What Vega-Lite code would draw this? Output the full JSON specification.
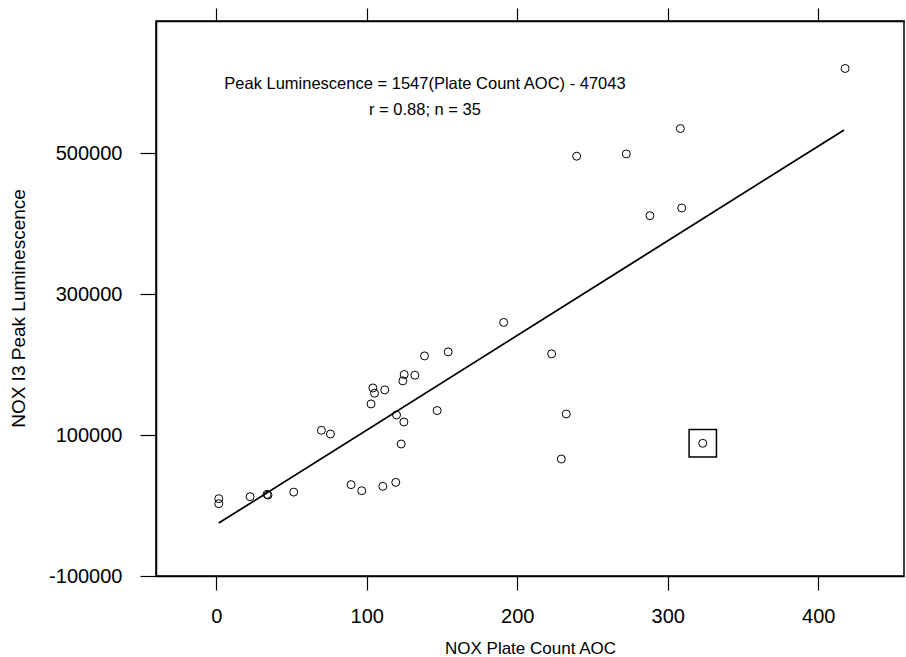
{
  "$schema": "https://vega.github.io/schema/vega-lite/v6.json",
  "width": 748,
  "height": 555,
  "autosize": {"type": "none"},
  "padding": {"left": 156, "top": 21, "right": 2, "bottom": 81},
  "background": "white",
  "config": {
    "font": "Liberation Sans",
    "view": {"stroke": "black", "strokeWidth": 1.5},
    "axis": {"grid": false, "domainColor": "black", "tickColor": "black", "labelColor": "black", "titleColor": "black", "labelFont": "Liberation Sans", "titleFont": "Liberation Sans", "titleFontWeight": "normal"}
  },
  "datasets": {
    "points": [
      {"aoc": 417.9, "lum": 620600, "excluded": false},
      {"aoc": 308.4, "lum": 535300, "excluded": false},
      {"aoc": 239.5, "lum": 496000, "excluded": false},
      {"aoc": 272.5, "lum": 499300, "excluded": false},
      {"aoc": 288.2, "lum": 411600, "excluded": false},
      {"aoc": 309.3, "lum": 422500, "excluded": false},
      {"aoc": 191.0, "lum": 260000, "excluded": false},
      {"aoc": 138.4, "lum": 212500, "excluded": false},
      {"aoc": 154.1, "lum": 218200, "excluded": false},
      {"aoc": 222.9, "lum": 215400, "excluded": false},
      {"aoc": 104.1, "lum": 167000, "excluded": false},
      {"aoc": 105.2, "lum": 159500, "excluded": false},
      {"aoc": 112.0, "lum": 164200, "excluded": false},
      {"aoc": 124.9, "lum": 186100, "excluded": false},
      {"aoc": 124.0, "lum": 177000, "excluded": false},
      {"aoc": 132.0, "lum": 185100, "excluded": false},
      {"aoc": 102.9, "lum": 144300, "excluded": false},
      {"aoc": 119.8, "lum": 128600, "excluded": false},
      {"aoc": 124.7, "lum": 118700, "excluded": false},
      {"aoc": 122.9, "lum": 87400, "excluded": false},
      {"aoc": 146.8, "lum": 134900, "excluded": false},
      {"aoc": 69.9, "lum": 106900, "excluded": false},
      {"aoc": 75.9, "lum": 101600, "excluded": false},
      {"aoc": 232.6, "lum": 130000, "excluded": false},
      {"aoc": 323.3, "lum": 88400, "excluded": true},
      {"aoc": 229.3, "lum": 66100, "excluded": false},
      {"aoc": 1.7, "lum": 9800, "excluded": false},
      {"aoc": 1.7, "lum": 2700, "excluded": false},
      {"aoc": 22.5, "lum": 12600, "excluded": false},
      {"aoc": 33.8, "lum": 15900, "excluded": false},
      {"aoc": 34.4, "lum": 14900, "excluded": false},
      {"aoc": 51.5, "lum": 19100, "excluded": false},
      {"aoc": 89.6, "lum": 29700, "excluded": false},
      {"aoc": 96.7, "lum": 21100, "excluded": false},
      {"aoc": 110.7, "lum": 27300, "excluded": false},
      {"aoc": 119.3, "lum": 32900, "excluded": false}
    ],
    "fit": [
      {"aoc": 1.7, "lum": -24900},
      {"aoc": 417.2, "lum": 533400}
    ],
    "notes": [
      {"text": "Peak Luminescence = 1547(Plate Count AOC) - 47043", "line": 1},
      {"text": "r = 0.88; n = 35", "line": 2}
    ]
  },
  "layer": [
    {
      "data": {"name": "points"},
      "mark": {"type": "point", "shape": "circle", "filled": false, "color": "black", "size": 64, "strokeWidth": 1, "opacity": 1},
      "encoding": {
        "x": {"field": "aoc", "type": "quantitative", "scale": {"domain": [-40, 457], "nice": false, "zero": false},
          "axis": {"orient": "bottom", "values": [0, 100, 200, 300, 400], "title": "NOX Plate Count AOC", "tickSize": 14, "tickWidth": 1.2, "domainWidth": 1.5, "labelFontSize": 20, "labelPadding": 16, "titleFontSize": 17, "titleY": 72, "titleBaseline": "middle"}},
        "y": {"field": "lum", "type": "quantitative", "scale": {"domain": [-100000, 688000], "nice": false, "zero": false},
          "axis": {"orient": "left", "values": [-100000, 100000, 300000, 500000], "format": "d", "labelExpr": "replace(datum.label, '\u2212', '-')", "title": "NOX I3 Peak Luminescence", "tickSize": 16, "tickWidth": 1.2, "domainWidth": 1.5, "labelFontSize": 20, "labelPadding": 18, "titleFontSize": 19, "titleX": -138, "titleY": 287, "titleBaseline": "middle"}}
      }
    },
    {
      "data": {"name": "points"},
      "transform": [{"filter": "datum.excluded"}],
      "mark": {"type": "point", "shape": "square", "filled": false, "color": "black", "size": 750, "strokeWidth": 1.5, "opacity": 1},
      "encoding": {
        "x": {"field": "aoc", "type": "quantitative", "axis": null},
        "y": {"field": "lum", "type": "quantitative"}
      }
    },
    {
      "data": {"name": "fit"},
      "mark": {"type": "line", "color": "black", "strokeWidth": 1.8},
      "encoding": {
        "x": {"field": "aoc", "type": "quantitative", "axis": null},
        "y": {"field": "lum", "type": "quantitative"}
      }
    },
    {
      "data": {"name": "notes"},
      "transform": [{"filter": "datum.line == 1"}],
      "mark": {"type": "text", "fontSize": 16.5, "align": "center", "baseline": "middle", "color": "black"},
      "encoding": {
        "x": {"datum": 138.7, "type": "quantitative", "axis": null},
        "y": {"datum": 598500, "type": "quantitative"},
        "text": {"field": "text"}
      }
    },
    {
      "data": {"name": "notes"},
      "transform": [{"filter": "datum.line == 2"}],
      "mark": {"type": "text", "fontSize": 16.5, "align": "center", "baseline": "middle", "color": "black"},
      "encoding": {
        "x": {"datum": 138.7, "type": "quantitative", "axis": null},
        "y": {"datum": 561600, "type": "quantitative"},
        "text": {"field": "text"}
      }
    },
    {
      "data": {"name": "points"},
      "mark": {"type": "point", "opacity": 0},
      "encoding": {
        "x": {"field": "aoc", "type": "quantitative",
          "axis": {"orient": "top", "values": [0, 100, 200, 300, 400], "labels": false, "title": null, "tickSize": 13, "tickWidth": 1.2, "domainWidth": 1.5}},
        "y": {"field": "lum", "type": "quantitative"}
      }
    }
  ],
  "resolve": {"axis": {"x": "independent"}}
}
